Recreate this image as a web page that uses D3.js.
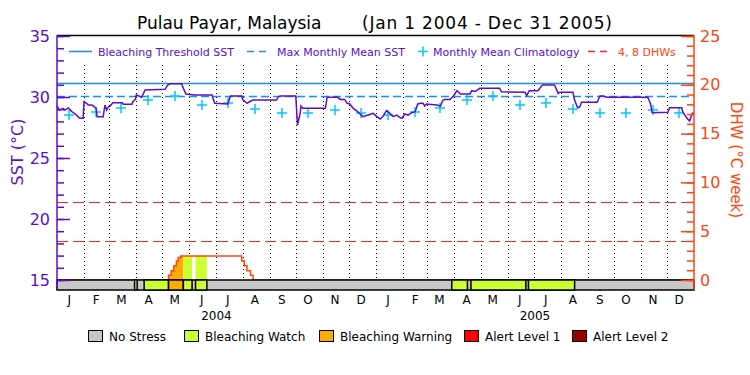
<!DOCTYPE html>
<html>
<head>
<meta charset="utf-8">
<script src="https://cdn.jsdelivr.net/npm/d3@7"></script>
<style>
body { margin: 0; background: #fff; }
text { font-family: "DejaVu Sans", sans-serif; }
</style>
</head>
<body>
<script>
// days are counted from 1 Jan 2004
var sstDay = [0, 3, 7, 9, 13, 17, 21, 24, 26, 30, 31, 34, 36, 40, 43, 45, 46, 53, 55, 57, 59, 61, 64, 75, 76, 86, 87, 90, 91, 94, 97, 99, 101, 124, 127, 130, 143, 145, 148, 158, 178, 179, 181, 196, 199, 212, 213, 218, 221, 225, 252, 254, 256, 274, 276, 279, 280, 282, 308, 310, 322, 325, 330, 333, 336, 340, 345, 351, 357, 363, 367, 371, 374, 378, 382, 386, 390, 394, 396, 399, 403, 407, 411, 414, 417, 420, 422, 424, 436, 440, 443, 445, 451, 455, 459, 463, 474, 476, 480, 485, 508, 510, 537, 539, 542, 552, 554, 557, 571, 575, 577, 592, 594, 597, 598, 600, 602, 620, 621, 623, 627, 631, 678, 681, 683, 701, 703, 717, 718, 723, 726, 729, 731];
var sstValue = [29.26, 28.93, 29.07, 28.93, 29.10, 28.80, 28.61, 28.39, 28.25, 28.25, 29.61, 29.48, 29.34, 29.34, 29.20, 29.07, 28.39, 28.39, 29.34, 28.93, 29.20, 29.26, 29.52, 29.52, 29.40, 29.40, 29.61, 29.80, 30.16, 30.08, 29.98, 30.25, 30.57, 30.63, 30.98, 31.08, 31.08, 30.71, 30.25, 30.16, 30.16, 29.89, 29.48, 29.43, 30.08, 30.08, 29.80, 29.48, 29.61, 29.75, 29.75, 30.02, 30.08, 30.08, 27.70, 28.66, 29.26, 29.07, 29.07, 29.98, 29.98, 29.80, 29.80, 29.48, 29.43, 29.07, 28.80, 28.39, 28.52, 28.66, 28.39, 28.20, 28.39, 28.88, 28.66, 28.39, 28.52, 28.30, 28.25, 28.61, 28.52, 28.71, 28.80, 29.43, 29.48, 29.48, 29.26, 29.43, 29.34, 29.26, 29.75, 29.80, 29.80, 30.08, 30.52, 30.25, 30.25, 30.52, 30.45, 30.71, 30.71, 30.43, 30.39, 30.11, 30.52, 30.52, 30.71, 30.98, 30.98, 30.30, 30.39, 30.39, 29.75, 29.20, 29.12, 29.20, 29.57, 29.57, 29.75, 30.08, 30.08, 29.98, 29.98, 29.48, 28.71, 28.74, 29.12, 29.12, 28.80, 28.25, 28.03, 28.66, 28.71];
var climatology = [28.52, 28.78, 29.12, 29.75, 30.12, 29.34, 29.48, 28.99, 28.71, 28.71, 28.93, 28.71];
var maxMonthlyMean = 30.12;
var bleachingThreshold = 31.12;
var dhwDay = [0, 128, 131, 134, 137, 139, 142, 212, 215, 218, 222, 225, 731];
var dhwValue = [0, 0.48, 0.95, 1.47, 1.95, 2.3, 2.46, 1.95, 1.47, 0.95, 0.48, 0, 0];
var dhwLevels = [4, 8];
var stressStart = [89, 100, 128, 145, 159, 453, 475, 541];
var stressEnd = [92, 128, 145, 155, 172, 471, 538, 594];
var stressLevel = [1, 1, 2, 1, 1, 1, 1, 1];
var stressNames = ['No Stress', 'Bleaching Watch', 'Bleaching Warning', 'Alert Level 1', 'Alert Level 2'];
var monthLetters = ['J', 'F', 'M', 'A', 'M', 'J', 'J', 'A', 'S', 'O', 'N', 'D'];
var years = [2004, 2005];
var sstTicks = [15, 20, 25, 30, 35];
var dhwTicks = [0, 5, 10, 15, 20, 25];

var stressColors = ['#c8c8c8', '#ccff33', '#ffaa00', '#ff0000', '#990000'];
var purple = '#5a0fc8', blue = '#1e8cf0', cyan = '#00c8ff', red = '#ff2222', orange = '#ff4510';

var width = 750, height = 375;
var plotLeft = 57, plotRight = 694, plotTop = 35, bandTop = 280, bandBottom = 290;

var start = new Date(Date.UTC(2004, 0, 1));
function day(d) { return d3.utcDay.offset(start, d); }

var x = d3.scaleUtc()
    .domain([start, new Date(Date.UTC(2006, 0, 1))])
    .range([plotLeft, plotRight]);
var ySst = d3.scaleLinear().domain([15, 35]).range([bandTop, 36]);
var yDhw = d3.scaleLinear().domain([0, 25]).range([bandTop, 36]);

var svg = d3.select('body').append('svg')
    .attr('width', width)
    .attr('height', height);

// title
svg.append('text').attr('x', 137).attr('y', 29).attr('font-size', 17).text('Pulau Payar, Malaysia');
svg.append('text').attr('x', 362).attr('y', 29).attr('font-size', 17)
    .attr('letter-spacing', 0.8).text('(Jan 1 2004 - Dec 31 2005)');

// month grid
var monthStarts = d3.utcMonth.range(day(1), x.domain()[1]);
svg.selectAll('.grid')
    .data(monthStarts)
    .enter().append('line')
        .attr('x1', function(d) { return Math.round(x(d)) + 0.5; })
        .attr('x2', function(d) { return Math.round(x(d)) + 0.5; })
        .attr('y1', 65)
        .attr('y2', bandTop)
        .attr('stroke', '#000')
        .attr('stroke-dasharray', '1,3');

// DHW levels
svg.selectAll('.dhwLevel')
    .data(dhwLevels)
    .enter().append('line')
        .attr('x1', plotLeft).attr('x2', plotRight)
        .attr('y1', function(d) { return Math.round(yDhw(d)) + 0.5; })
        .attr('y2', function(d) { return Math.round(yDhw(d)) + 0.5; })
        .attr('stroke', red)
        .attr('stroke-dasharray', '11,5');

// threshold and MMM
svg.append('line')
    .attr('x1', plotLeft).attr('x2', plotRight)
    .attr('y1', Math.round(ySst(bleachingThreshold)) + 0.5)
    .attr('y2', Math.round(ySst(bleachingThreshold)) + 0.5)
    .attr('stroke', blue).attr('stroke-width', 1.5);
svg.append('line')
    .attr('x1', plotLeft).attr('x2', plotRight)
    .attr('y1', Math.round(ySst(maxMonthlyMean)) + 0.5)
    .attr('y2', Math.round(ySst(maxMonthlyMean)) + 0.5)
    .attr('stroke', blue).attr('stroke-width', 1.5)
    .attr('stroke-dasharray', '8,4');

// DHW area coloured by stress level
var dhwPoints = dhwDay.map(function(d, i) { return [day(d), dhwValue[i]]; });
var area = d3.area()
    .curve(d3.curveStepAfter)
    .x(function(d) { return x(d[0]); })
    .y0(bandTop)
    .y1(function(d) { return yDhw(d[1]); });
stressStart.forEach(function(s, i) {
    svg.append('clipPath').attr('id', 'clip' + i)
        .append('rect')
        .attr('x', x(day(s))).attr('y', 0)
        .attr('width', x(day(stressEnd[i])) - x(day(s)))
        .attr('height', bandTop);
    svg.append('path')
        .datum(dhwPoints)
        .attr('clip-path', 'url(#clip' + i + ')')
        .attr('fill', stressColors[stressLevel[i]])
        .attr('d', area);
});

svg.append('path')
    .datum(dhwPoints)
    .attr('fill', 'none')
    .attr('stroke', orange)
    .attr('stroke-width', 1.5)
    .attr('d', d3.line()
        .curve(d3.curveStepAfter)
        .x(function(d) { return x(d[0]); })
        .y(function(d) { return yDhw(d[1]); }));

// climatology
var climPoints = [];
years.forEach(function(yr) {
    climatology.forEach(function(v, m) {
        climPoints.push([new Date(Date.UTC(yr, m, 15)), v]);
    });
});
svg.selectAll('.clim')
    .data(climPoints)
    .enter().append('path')
        .attr('d', function(d) {
            var cx = Math.round(x(d[0])), cy = Math.round(ySst(d[1]));
            return 'M' + (cx - 5) + ',' + cy + 'H' + (cx + 5) + 'M' + cx + ',' + (cy - 5) + 'V' + (cy + 5);
        })
        .attr('stroke', cyan)
        .attr('stroke-width', 1.5);

// SST
svg.append('path')
    .datum(sstDay.map(function(d, i) { return [day(d), sstValue[i]]; }))
    .attr('fill', 'none')
    .attr('stroke', purple)
    .attr('stroke-width', 1.5)
    .attr('d', d3.line()
        .x(function(d) { return x(d[0]); })
        .y(function(d) { return ySst(d[1]); }));

// stress band
svg.append('rect')
    .attr('x', plotLeft).attr('y', bandTop)
    .attr('width', plotRight - plotLeft).attr('height', bandBottom - bandTop)
    .attr('fill', stressColors[0])
    .attr('stroke', '#000').attr('stroke-width', 1.5);
svg.selectAll('.stress')
    .data(stressStart)
    .enter().append('rect')
        .attr('x', function(d) { return x(day(d)); })
        .attr('y', bandTop)
        .attr('width', function(d, i) { return x(day(stressEnd[i])) - x(day(d)); })
        .attr('height', bandBottom - bandTop)
        .attr('fill', function(d, i) { return stressColors[stressLevel[i]]; })
        .attr('stroke', '#000').attr('stroke-width', 1.5);

// frame
svg.append('line').attr('x1', plotLeft).attr('x2', plotRight).attr('y1', plotTop + 0.5).attr('y2', plotTop + 0.5)
    .attr('stroke', '#000').attr('stroke-width', 1.5);

// left axis
var leftMinor = svg.append('g').attr('transform', 'translate(' + plotLeft + ',0)')
    .call(d3.axisLeft(ySst).ticks(20).tickSize(-7).tickFormat(''));
var leftMajor = svg.append('g').attr('transform', 'translate(' + plotLeft + ',0)')
    .call(d3.axisLeft(ySst).tickValues(sstTicks).tickSize(-13).tickPadding(7));
[leftMinor, leftMajor].forEach(function(g) {
    g.select('.domain').remove();
    g.selectAll('line').attr('stroke', purple).attr('stroke-width', 1.5);
    g.selectAll('text').attr('fill', purple).attr('font-size', 16)
        .attr('font-family', '"DejaVu Sans", sans-serif');
});
svg.append('line').attr('x1', plotLeft).attr('x2', plotLeft).attr('y1', plotTop).attr('y2', bandBottom)
    .attr('stroke', purple).attr('stroke-width', 1.5);

// right axis
var rightMinor = svg.append('g').attr('transform', 'translate(' + plotRight + ',0)')
    .call(d3.axisRight(yDhw).ticks(25).tickSize(-7).tickFormat(''));
var rightMajor = svg.append('g').attr('transform', 'translate(' + plotRight + ',0)')
    .call(d3.axisRight(yDhw).tickValues(dhwTicks).tickSize(-13).tickPadding(6));
[rightMinor, rightMajor].forEach(function(g) {
    g.select('.domain').remove();
    g.selectAll('line').attr('stroke', orange).attr('stroke-width', 1.5);
    g.selectAll('text').attr('fill', orange).attr('font-size', 16)
        .attr('font-family', '"DejaVu Sans", sans-serif');
});
svg.append('line').attr('x1', plotRight).attr('x2', plotRight).attr('y1', plotTop).attr('y2', bandBottom)
    .attr('stroke', orange).attr('stroke-width', 1.5);

// axis titles
svg.append('text')
    .attr('transform', 'translate(23,152) rotate(-90)')
    .attr('text-anchor', 'middle')
    .attr('font-size', 16)
    .attr('fill', purple)
    .text('SST (\u00b0C)');
svg.append('text')
    .attr('transform', 'translate(731,160) rotate(90)')
    .attr('text-anchor', 'middle')
    .attr('font-size', 15)
    .attr('fill', orange)
    .text('DHW (\u00b0C week)');

// month and year labels
var monthMids = [];
years.forEach(function(yr) {
    monthLetters.forEach(function(m, i) {
        monthMids.push({ date: new Date(Date.UTC(yr, i, 15)), label: m });
    });
});
svg.selectAll('.month')
    .data(monthMids)
    .enter().append('text')
        .attr('x', function(d) { return x(d.date); })
        .attr('y', 304)
        .attr('text-anchor', 'middle')
        .attr('font-size', 12)
        .text(function(d) { return d.label; });
svg.selectAll('.year')
    .data(years)
    .enter().append('text')
        .attr('x', function(d) { return (x(new Date(Date.UTC(d, 0, 1))) + x(new Date(Date.UTC(d + 1, 0, 1)))) / 2; })
        .attr('y', 320)
        .attr('text-anchor', 'middle')
        .attr('font-size', 12)
        .text(function(d) { return d; });

// top legend
var lg = svg.append('g').attr('font-size', 11).attr('fill', purple);
lg.append('line').attr('x1', 69).attr('x2', 92).attr('y1', 51.5).attr('y2', 51.5)
    .attr('stroke', blue).attr('stroke-width', 1.5);
lg.append('text').attr('x', 98).attr('y', 55.5).text('Bleaching Threshold SST');
lg.append('line').attr('x1', 247).attr('x2', 270).attr('y1', 51.5).attr('y2', 51.5)
    .attr('stroke', blue).attr('stroke-width', 1.5).attr('stroke-dasharray', '7,5');
lg.append('text').attr('x', 277).attr('y', 55.5).text('Max Monthly Mean SST');
lg.append('path').attr('d', 'M418,51.5H428M423,46.5V56.5')
    .attr('stroke', cyan).attr('stroke-width', 1.5);
lg.append('text').attr('x', 433).attr('y', 55.5).text('Monthly Mean Climatology');
lg.append('line').attr('x1', 588).attr('x2', 611).attr('y1', 51.5).attr('y2', 51.5)
    .attr('stroke', red).attr('stroke-width', 1.5).attr('stroke-dasharray', '7,5');
lg.append('text').attr('x', 618).attr('y', 55.5).attr('fill', orange).text('4, 8 DHWs');

// bottom legend
var boxX = [88, 184, 319, 464, 572];
var bl = svg.append('g').attr('font-size', 12);
stressNames.forEach(function(name, i) {
    bl.append('rect').attr('x', boxX[i] + 0.5).attr('y', 330.5).attr('width', 14).attr('height', 11)
        .attr('fill', stressColors[i]).attr('stroke', '#000');
    bl.append('text').attr('x', boxX[i] + 21).attr('y', 341).text(name);
});
</script>
</body>
</html>
